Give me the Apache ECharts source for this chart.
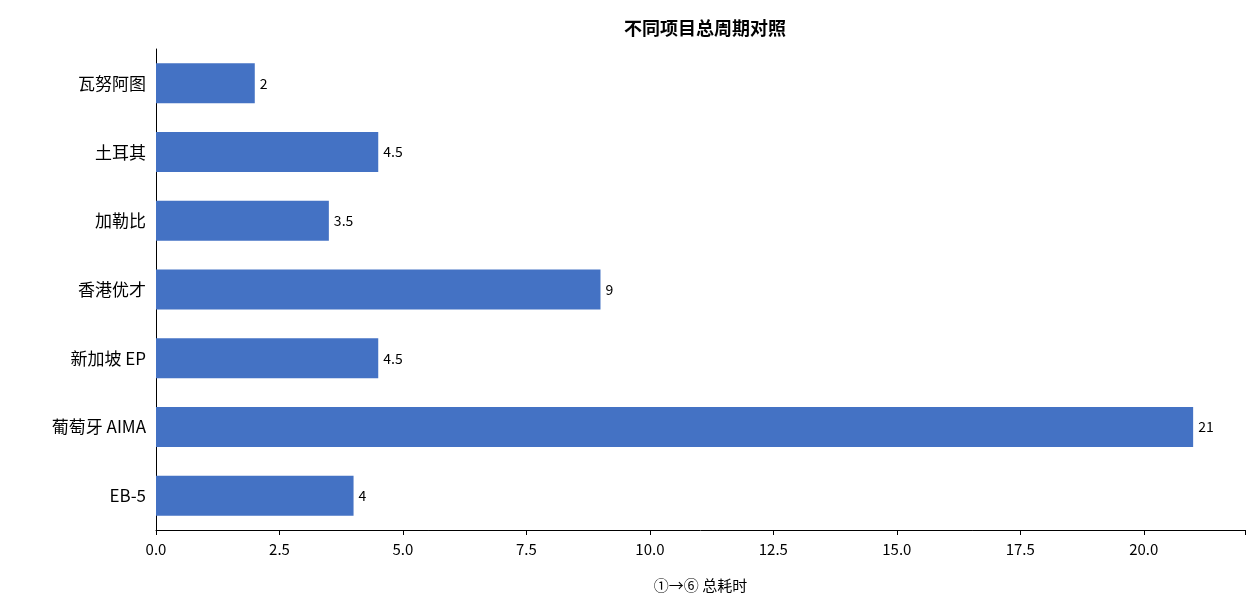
<!DOCTYPE html>
<html><head><meta charset="utf-8">
<script src="https://cdn.jsdelivr.net/npm/echarts@6/dist/echarts.min.js"></script>
<style>html,body{margin:0;padding:0;background:#fff}#c{width:1260px;height:615px}</style>
</head><body><div id="c"></div>
<script>
const categories = ['EB-5', '葡萄牙 AIMA', '新加坡 EP', '香港优才', '加勒比', '土耳其', '瓦努阿图'];
const values = [4, 21, 4.5, 9, 3.5, 4.5, 2];
const xTicks = [0, 2.5, 5, 7.5, 10, 12.5, 15, 17.5, 20];
const F = '"Noto Sans CJK SC", "Noto Sans", sans-serif';
const chart = echarts.init(document.getElementById('c'));
chart.setOption({
  animation: false,
  title: { text: '不同项目总周期对照', left: 700, top: 14, textAlign: 'center',
    textStyle: { fontFamily: F, fontSize: 18, fontWeight: 'bold', color: '#000' } },
  grid: { left: 156, right: 15, top: 49, height: 481 },
  xAxis: { type: 'value', min: 0, max: 22.05, interval: 2.5,
    name: '①→⑥ 总耗时', nameLocation: 'middle', nameGap: 48,
    nameTextStyle: { fontFamily: F, fontSize: 15, color: '#000' },
    axisLine: { show: true, lineStyle: { color: '#000' } },
    axisTick: { show: true, length: 5, lineStyle: { color: '#000' } },
    splitLine: { show: false },
    axisLabel: { fontFamily: F, fontSize: 15, color: '#000', margin: 12,
      formatter: v => xTicks.includes(v) ? v.toFixed(1) : '' } },
  yAxis: { type: 'category', data: categories,
    axisLine: { lineStyle: { color: '#000' } },
    axisTick: { alignWithLabel: true, length: 5, lineStyle: { color: '#000' } },
    axisLabel: { fontFamily: F, fontSize: 17, color: '#000', margin: 10 } },
  series: [{ type: 'bar', data: values, barWidth: 40,
    itemStyle: { color: '#4472C4' },
    label: { show: true, position: 'right', distance: 5, fontFamily: F, fontSize: 14, color: '#000' } }]
});
</script></body></html>
